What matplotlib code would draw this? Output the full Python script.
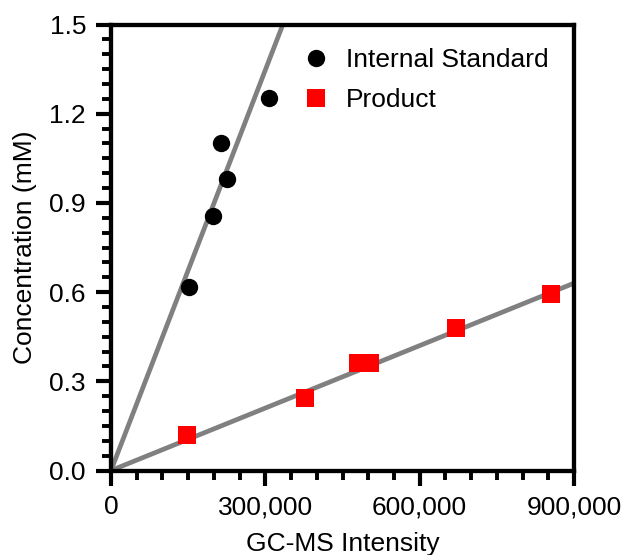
import numpy as np
import matplotlib
matplotlib.use("Agg")
import matplotlib.pyplot as plt
from matplotlib.ticker import MultipleLocator, FuncFormatter

plt.rcParams['font.family'] = ['Liberation Sans', 'DejaVu Sans']

# calibration data: GC-MS intensity vs concentration
is_intensity = [152000, 198000, 225500, 214000, 307500]
is_conc = [0.616, 0.856, 0.980, 1.103, 1.252]

product_intensity = [148000, 376500, 480500, 504000, 670000, 854500]
product_conc = [0.119, 0.243, 0.361, 0.361, 0.478, 0.594]

# fitted slopes (mM per intensity unit), lines forced through the origin
is_slope = 4.49e-6
product_slope = 7.0e-7

fit_x = np.array([0, 900000])

fig = plt.figure(figsize=(6.23, 5.55), dpi=100)
ax = fig.add_axes([111 / 623, 1 - 470.5 / 555, 463 / 623, 446 / 555])

ax.plot(fit_x, is_slope * fit_x, color='#808080', lw=3.4, zorder=2)
ax.plot(fit_x, product_slope * fit_x, color='#808080', lw=3.4, zorder=2)

ax.plot(is_intensity, is_conc, 'o', color='black', ms=12.5, mew=0,
        label='Internal Standard', zorder=3)
ax.plot(product_intensity, product_conc, 's', color='#ff0000', ms=13, mew=0,
        label='Product', zorder=3)

ax.set_xlim(0, 900000)
ax.set_ylim(0, 1.5)

ax.xaxis.set_major_locator(MultipleLocator(300000))
ax.xaxis.set_minor_locator(MultipleLocator(50000))
ax.yaxis.set_major_locator(MultipleLocator(0.3))
ax.yaxis.set_minor_locator(MultipleLocator(0.05))
ax.xaxis.set_major_formatter(FuncFormatter(lambda v, p: f"{int(v):,}"))
ax.yaxis.set_major_formatter(FuncFormatter(lambda v, p: f"{v:.1f}"))

for s in ax.spines.values():
    s.set_linewidth(3.1)
ax.tick_params(which='major', direction='out', length=11, width=3, labelsize=19, pad=7)
ax.tick_params(which='minor', direction='out', length=6.5, width=2.8)

ax.set_xlabel('GC-MS Intensity', fontsize=19, labelpad=9)
ax.set_ylabel('Concentration (mM)', fontsize=19, labelpad=9)

ax.legend(loc='upper left', bbox_to_anchor=(0.414, 0.947), frameon=False,
          fontsize=19, handlelength=1.0, handletextpad=0.64,
          labelspacing=0.6, borderpad=0, borderaxespad=0, numpoints=1)

fig.savefig('out.png', dpi=100)
